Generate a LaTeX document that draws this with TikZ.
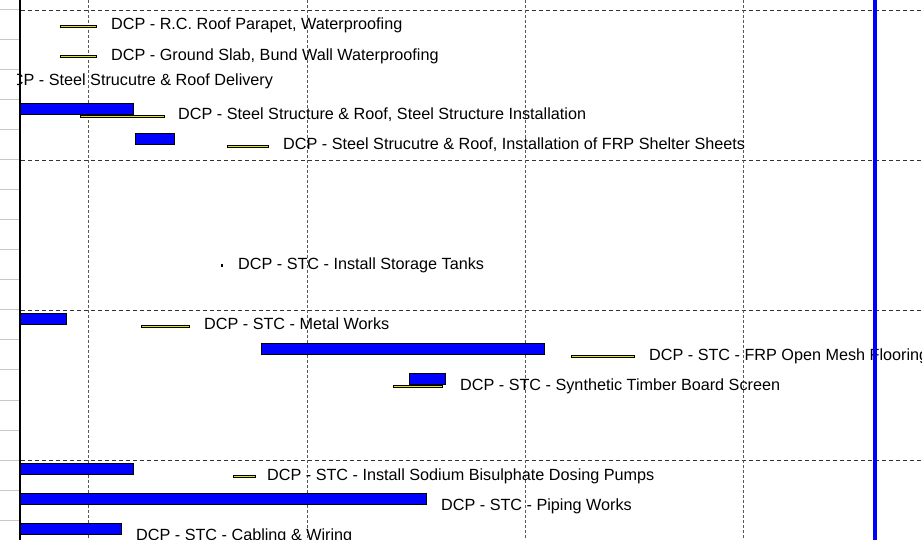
\documentclass[tikz,border=0pt]{standalone}
\usepackage{fontspec}
\setmainfont{Liberation Sans}
\usepackage{tikz}
\definecolor{barblue}{RGB}{0,0,255}
\definecolor{baryellow}{RGB}{228,228,0}
\definecolor{tickgray}{RGB}{200,200,200}
\newcommand{\ganttfont}{\fontsize{16.2}{19}\selectfont}

\begin{document}
\begin{tikzpicture}[x=1pt,y=-1pt,
    taskbar/.style={draw=black, fill=barblue, line width=0.9pt},
    planbar/.style={draw=black, fill=baryellow, line width=0.9pt},
    tasklabel/.style={anchor=base west, inner sep=0pt, font=\ganttfont},
    rowgrid/.style={draw=black!80, line width=0.8pt, dash pattern=on 4pt off 3pt},
    colgrid/.style={draw=black!65, line width=0.8pt, dash pattern=on 3pt off 2pt}]
            \useasboundingbox (0,0) rectangle (922,540);
            \clip (0,0) rectangle (922,540);
            \fill[white] (0,0) rectangle (922,540);

            % grid
            \foreach \y in {10,40,...,520}
                \draw[tickgray, line width=1pt] (0,\y) -- (19,\y);
            \foreach \y in {10,160,310,460}
                \draw[rowgrid] (21,\y) -- (922,\y);
            \foreach \x in {88,307,525,743}
                \draw[colgrid] (\x,0) -- (\x,540);

            % bars
            \draw[planbar] (60,25.2) rectangle (96,27.8);
            \draw[planbar] (60,55.2) rectangle (96,57.8);
            \draw[taskbar] (19.5,103.5) rectangle (133,114.5);
            \draw[planbar] (80,115.2) rectangle (164,117.8);
            \draw[taskbar] (135,133.5) rectangle (174,144.5);
            \draw[planbar] (227,145.2) rectangle (268,147.8);
            \fill[black] (221,264) rectangle (223,267);
            \draw[taskbar] (19.5,313.5) rectangle (66,324.5);
            \draw[planbar] (141,325.2) rectangle (189,327.8);
            \draw[taskbar] (261,343.5) rectangle (544,354.5);
            \draw[planbar] (571,355.2) rectangle (634,357.8);
            \draw[planbar] (393,385.2) rectangle (442,387.8);
            \draw[taskbar] (409,373.5) rectangle (445,384.5);
            \draw[taskbar] (19.5,463.5) rectangle (133,474.5);
            \draw[planbar] (233,475.2) rectangle (255,477.8);
            \draw[taskbar] (19.5,493.5) rectangle (426,504.5);
            \draw[taskbar] (19.5,523.5) rectangle (121,534.5);

            % labels
            \node[tasklabel] (parapet) at (111,29.8) {DCP - R.C. Roof Parapet, Waterproofing};
            \node[tasklabel] (groundslab) at (111,60.3) {DCP - Ground Slab, Bund Wall Waterproofing};
            \begin{scope}
                \clip (17,0) rectangle (922,540);
                \node[tasklabel] (delivery) at (0,86) {DCP - Steel Strucutre \& Roof Delivery};
            \end{scope}
            \node[tasklabel] (steelinst) at (178,119.8) {DCP - Steel Structure \& Roof, Steel Structure Installation};
            \node[tasklabel] (shelter) at (283,150) {DCP - Steel Strucutre \& Roof, Installation of FRP Shelter Sheets};
            \node[tasklabel] (tanks) at (238,270) {DCP - STC - Install Storage Tanks};
            \node[tasklabel] (metal) at (204,330) {DCP - STC - Metal Works};
            \node[tasklabel] (mesh) at (649,360) {DCP - STC - FRP Open Mesh Flooring};
            \node[tasklabel] (timber) at (460,390) {DCP - STC - Synthetic Timber Board Screen};
            \node[tasklabel] (dosing) at (267,480) {DCP - STC - Install Sodium Bisulphate Dosing Pumps};
            \node[tasklabel] (piping) at (441,510) {DCP - STC - Piping Works};
            \node[tasklabel] (cabling) at (136,540) {DCP - STC - Cabling \& Wiring};

            % axis and today
            \draw[line width=2pt] (20,0) -- (20,540);
            \draw[barblue, line width=4pt] (875,0) -- (875,540);
\end{tikzpicture}
\end{document}
